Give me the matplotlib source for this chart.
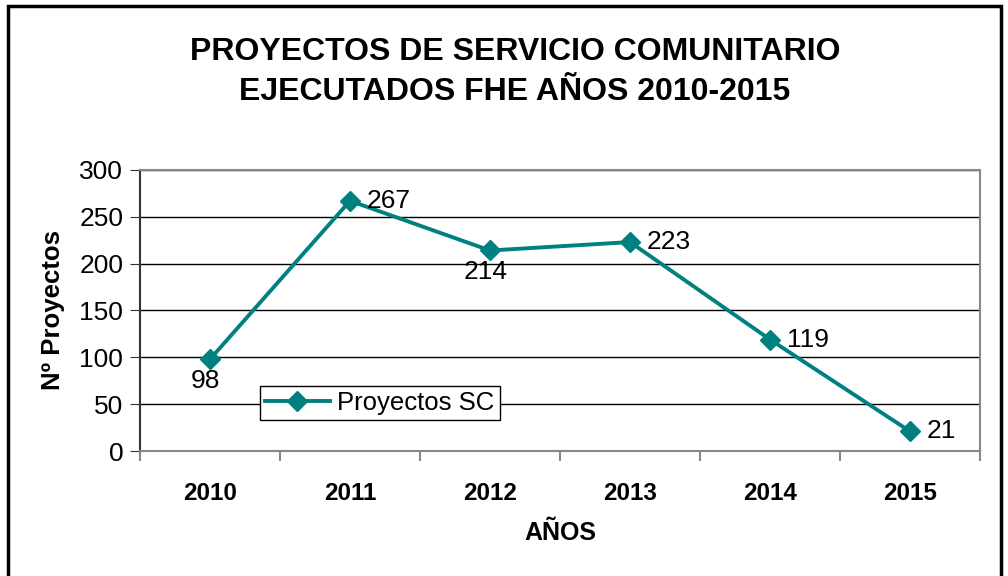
import matplotlib.pyplot as plt
from matplotlib.patches import Rectangle

plt.rcParams['font.family'] = ['Liberation Sans', 'DejaVu Sans']

years = ['2010', '2011', '2012', '2013', '2014', '2015']
proyectos = [98, 267, 214, 223, 119, 21]
# where each value label sits relative to its point: 'right' or 'below'
label_pos = ['below', 'right', 'below', 'right', 'right', 'right']

fig = plt.figure(figsize=(10.08, 5.76), dpi=100)
ax = fig.add_axes([0.1389, 0.217, 0.8333, 0.488])

x = range(len(years))
ax.plot(x, proyectos, color='#008080', lw=2.8, marker='D', ms=10,
        label='Proyectos SC', zorder=3)

for i, v in enumerate(proyectos):
    if label_pos[i] == 'right':
        ax.annotate(str(v), (i, v), xytext=(12, 0), textcoords='offset points',
                    ha='left', va='center', fontsize=19)
    else:
        ax.annotate(str(v), (i, v), xytext=(-3, -7), textcoords='offset points',
                    ha='center', va='top', fontsize=19)

ax.set_xlim(-0.5, 5.5)
ax.set_ylim(0, 300)
ax.set_yticks(range(0, 301, 50))
ax.tick_params(axis='y', labelsize=19, length=7, pad=5, direction='out', color='#333333')
ax.set_xticks(list(x))
ax.set_xticklabels(years, fontsize=17.5, fontweight='bold')
ax.tick_params(axis='x', length=0, pad=22)
ax.set_xticks([i + 0.5 for i in range(-1, 6)], minor=True)
ax.tick_params(axis='x', which='minor', length=7, color='#888888', width=1.5)

ax.grid(axis='y', color='black', lw=1)
ax.set_axisbelow(True)
for s in ['top', 'right', 'bottom']:
    ax.spines[s].set_color('#888888')
    ax.spines[s].set_linewidth(1.5)
ax.spines['left'].set_color('#333333')
ax.spines['left'].set_linewidth(1.5)

ax.set_ylabel('Nº Proyectos', fontsize=18.5, fontweight='bold', labelpad=10)
ax.set_xlabel('AÑOS', fontsize=18, fontweight='bold', labelpad=12)

leg = ax.legend(loc='lower left', bbox_to_anchor=(0.143, 0.11), fontsize=18.5,
                frameon=True, fancybox=False, edgecolor='black',
                framealpha=1, borderpad=0.2, handlelength=2.5, handletextpad=0.3,
                borderaxespad=0)
leg.get_frame().set_linewidth(1)

fig.text(0.511, 0.875, 'PROYECTOS DE SERVICIO COMUNITARIO\nEJECUTADOS FHE AÑOS 2010-2015',
         ha='center', va='center', fontsize=23, fontweight='bold', linespacing=1.45)

fig.patches.append(Rectangle((0.008, -0.01), 0.985, 0.999, transform=fig.transFigure,
                             fill=False, edgecolor='black', lw=2.5))

fig.savefig('out.png', dpi=100)
